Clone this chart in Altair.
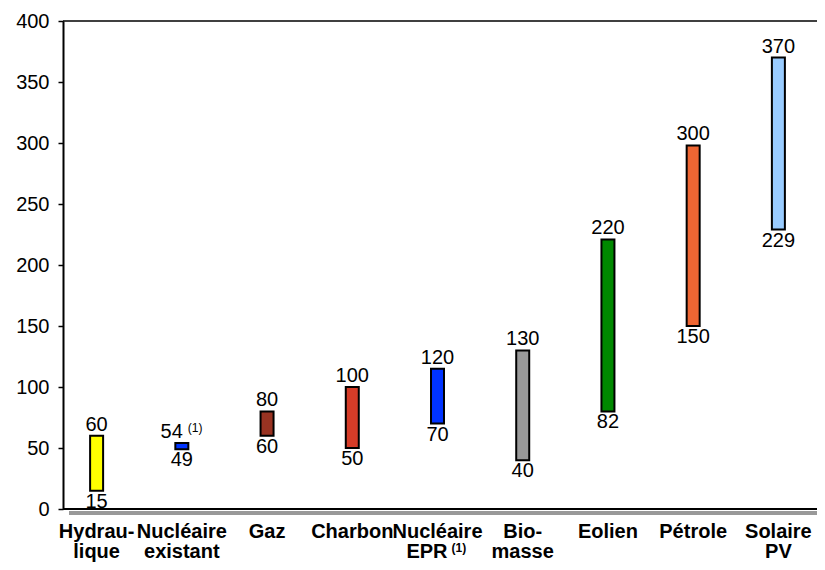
import altair as alt
import pandas as pd

categories = ["Hydraulique", "Nucléaire existant", "Gaz", "Charbon", "Nucléaire EPR",
              "Biomasse", "Eolien", "Pétrole", "Solaire PV"]
label_line1 = ["Hydrau-", "Nucléaire", "Gaz", "Charbon", "Nucléaire", "Bio-",
               "Eolien", "Pétrole", "Solaire"]
label_line2 = ["lique", "existant", "", "", "EPR", "masse", "", "", "PV"]
bar_low = [15, 49, 60, 50, 70, 40, 80, 150, 229]
bar_high = [60, 54, 80, 100, 115, 130, 221, 298, 370]
label_low = ["15", "49", "60", "50", "70", "40", "82", "150", "229"]
label_high = ["60", "54", "80", "100", "120", "130", "220", "300", "370"]
value_note = ["", "(1)", "", "", "", "", "", "", ""]
axis_note = ["", "", "", "", "(1)", "", "", "", ""]
colors = ["#FFFF00", "#0033FF", "#993322", "#D63C28", "#0033FF",
          "#999999", "#008800", "#EE6633", "#99CCFF"]
y_ticks = [0, 50, 100, 150, 200, 250, 300, 350, 400]

W, H = 754, 488
FONT = "Liberation Sans"

df = pd.DataFrame({
    "cat": categories, "l1": label_line1, "l2": label_line2,
    "lo": bar_low, "hi": bar_high,
    "lo_lab": label_low, "hi_lab": label_high,
    "vnote": value_note, "anote": axis_note, "color": colors,
})

x = alt.X("cat:N", sort=None, title=None,
          scale=alt.Scale(range=[-9, 758], paddingInner=0, paddingOuter=0),
          axis=alt.Axis(domain=False, ticks=False, labels=False))
y_scale = alt.Scale(domain=[0, 400], nice=False)
y_axis = alt.Axis(values=y_ticks, grid=False, domainColor="black", domainWidth=2,
                  tickColor="black", tickSize=5, tickWidth=1.5, labelFont=FONT,
                  labelFontSize=20, labelColor="black", labelPadding=9, title=None)

base = alt.Chart(df)

bars = base.mark_bar(size=13, stroke="black", strokeWidth=2).encode(
    x=x,
    y=alt.Y("lo:Q", scale=y_scale, axis=y_axis),
    y2="hi:Q",
    color=alt.Color("color:N", scale=None),
)

top_plain = base.transform_filter("datum.vnote == ''").mark_text(
    font=FONT, fontSize=20, baseline="alphabetic", dy=-5, color="black").encode(
    x=x, y=alt.Y("hi:Q", scale=y_scale), text="hi_lab:N")
top_noted = base.transform_filter("datum.vnote != ''").mark_text(
    font=FONT, fontSize=20, baseline="alphabetic", align="right", dx=1, dy=-5,
    color="black").encode(x=x, y=alt.Y("hi:Q", scale=y_scale), text="hi_lab:N")
top_note = base.transform_filter("datum.vnote != ''").mark_text(
    font=FONT, fontSize=12, baseline="alphabetic", align="left", dx=6, dy=-11,
    color="black").encode(x=x, y=alt.Y("hi:Q", scale=y_scale), text="vnote:N")
bottom = base.mark_text(font=FONT, fontSize=20, baseline="top", dy=1,
                        color="black").encode(
    x=x, y=alt.Y("lo:Q", scale=y_scale), text="lo_lab:N")

lab1 = base.mark_text(font=FONT, fontSize=20, fontWeight="bold",
                      baseline="alphabetic", color="black").encode(
    x=x, y=alt.value(H + 29), text="l1:N")
lab2_plain = base.transform_filter("datum.anote == ''").mark_text(
    font=FONT, fontSize=20, fontWeight="bold", baseline="alphabetic",
    color="black").encode(x=x, y=alt.value(H + 49), text="l2:N")
lab2_noted = base.transform_filter("datum.anote != ''").mark_text(
    font=FONT, fontSize=20, fontWeight="bold", baseline="alphabetic",
    align="right", dx=10, color="black").encode(x=x, y=alt.value(H + 49), text="l2:N")
axis_sup = base.transform_filter("datum.anote != ''").mark_text(
    font=FONT, fontSize=12, fontWeight="bold", baseline="alphabetic", align="left",
    dx=14, color="black").encode(x=x, y=alt.value(H + 43), text="anote:N")

line_df = pd.DataFrame({"k": [0]})
lines = alt.Chart(line_df)
top_line = lines.mark_rule(color="black", strokeWidth=1.5).encode(
    x=alt.value(0), x2=alt.value(W), y=alt.value(0))
shadow = lines.mark_rule(color="#999999", strokeWidth=4).encode(
    x=alt.value(6), x2=alt.value(W), y=alt.value(H + 4))
x_line = lines.mark_rule(color="black", strokeWidth=2).encode(
    x=alt.value(0), x2=alt.value(W), y=alt.value(H))

chart = alt.layer(
    shadow, top_line, bars, top_plain, top_noted, top_note, bottom,
    lab1, lab2_plain, lab2_noted, axis_sup, x_line
).properties(
    width=W, height=H,
    autosize=alt.AutoSizeParams(type="none"),
    padding={"left": 55, "top": 13, "right": 0, "bottom": 53},
).configure_view(stroke=None)

chart.save("out.html", embed_options={"renderer": "svg", "actions": False})
